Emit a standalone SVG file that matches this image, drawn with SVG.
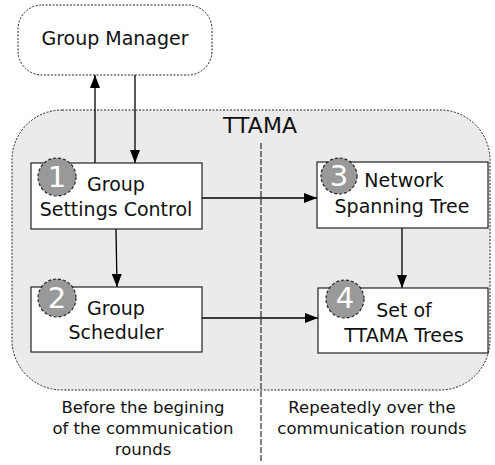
<svg xmlns="http://www.w3.org/2000/svg" width="495" height="465" viewBox="0 0 495 465">
  <style>
    text { font-family: "DejaVu Sans", "Liberation Sans", sans-serif; fill: #111; }
    .box { fill: #fff; stroke: #222; stroke-width: 1.2; }
    .badge { fill: #999; stroke: #222; stroke-width: 1.2; stroke-dasharray: 3 2; }
    .num { fill: #fff; font-size: 29px; text-anchor: middle; }
    .lbl { font-size: 19px; text-anchor: middle; }
    .note { font-size: 16.5px; text-anchor: middle; }
    .edge { stroke: #000; stroke-width: 1.3; fill: none; marker-end: url(#arrow); }
  </style>
  <defs>
    <marker id="arrow" viewBox="0 0 13 10" refX="13" refY="5" markerWidth="13" markerHeight="10" markerUnits="userSpaceOnUse" orient="auto">
      <path d="M0,0 L13,5 L0,10 Z" fill="#000"/>
    </marker>
  </defs>

  <!-- outer component -->
  <g id="ttama">
    <rect x="12" y="110" width="478" height="280" rx="50" ry="50" fill="#ebebeb" stroke="#222" stroke-width="1" stroke-dasharray="2 1.5"/>
    <text x="260" y="133" font-size="22" text-anchor="middle">TTAMA</text>
  </g>

  <g id="group-manager">
    <rect x="18" y="5" width="194" height="70" rx="24" ry="24" fill="#fff" stroke="#222" stroke-width="1" stroke-dasharray="2 1.5"/>
    <text class="lbl" x="115" y="45">Group Manager</text>
  </g>

  <!-- phase divider -->
  <line id="divider" x1="261" y1="143" x2="261" y2="463" stroke="#000" stroke-width="1" stroke-dasharray="6 2"/>

  <g id="connectors">
    <line class="edge" x1="95" y1="163" x2="95" y2="75"/>
    <line class="edge" x1="135" y1="75" x2="135" y2="163"/>
    <line class="edge" x1="202" y1="198" x2="317" y2="198"/>
    <line class="edge" x1="116" y1="229" x2="117" y2="287"/>
    <line class="edge" x1="202" y1="318" x2="318" y2="318"/>
    <line class="edge" x1="402" y1="228" x2="402" y2="288"/>
  </g>

  <g id="node1">
    <rect class="box" x="31" y="163" width="171" height="66"/>
    <circle class="badge" cx="57" cy="177" r="19"/>
    <text class="num" x="57" y="187">1</text>
    <text class="lbl" x="116" y="191">Group</text>
    <text class="lbl" x="116" y="216">Settings Control</text>
  </g>

  <g id="node2">
    <rect class="box" x="31" y="287" width="171" height="65"/>
    <circle class="badge" cx="57" cy="298" r="19"/>
    <text class="num" x="57" y="308">2</text>
    <text class="lbl" x="116" y="315">Group</text>
    <text class="lbl" x="116" y="339">Scheduler</text>
  </g>

  <g id="node3">
    <rect class="box" x="317" y="162" width="171" height="66"/>
    <circle class="badge" cx="339" cy="176" r="18"/>
    <text class="num" x="339" y="186">3</text>
    <text class="lbl" x="404" y="187">Network</text>
    <text class="lbl" x="402" y="213">Spanning Tree</text>
  </g>

  <g id="node4">
    <rect class="box" x="318" y="288" width="170" height="65"/>
    <circle class="badge" cx="345" cy="299" r="19"/>
    <text class="num" x="345" y="308">4</text>
    <text class="lbl" x="404" y="317">Set of</text>
    <text class="lbl" x="404" y="342">TTAMA Trees</text>
  </g>

  <g id="phase-notes">
    <text class="note" x="143" y="413">Before the begining</text>
    <text class="note" x="143" y="434">of the communication</text>
    <text class="note" x="143" y="455">rounds</text>
    <text class="note" x="372" y="413">Repeatedly over the</text>
    <text class="note" x="372" y="434">communication rounds</text>
  </g>
</svg>
